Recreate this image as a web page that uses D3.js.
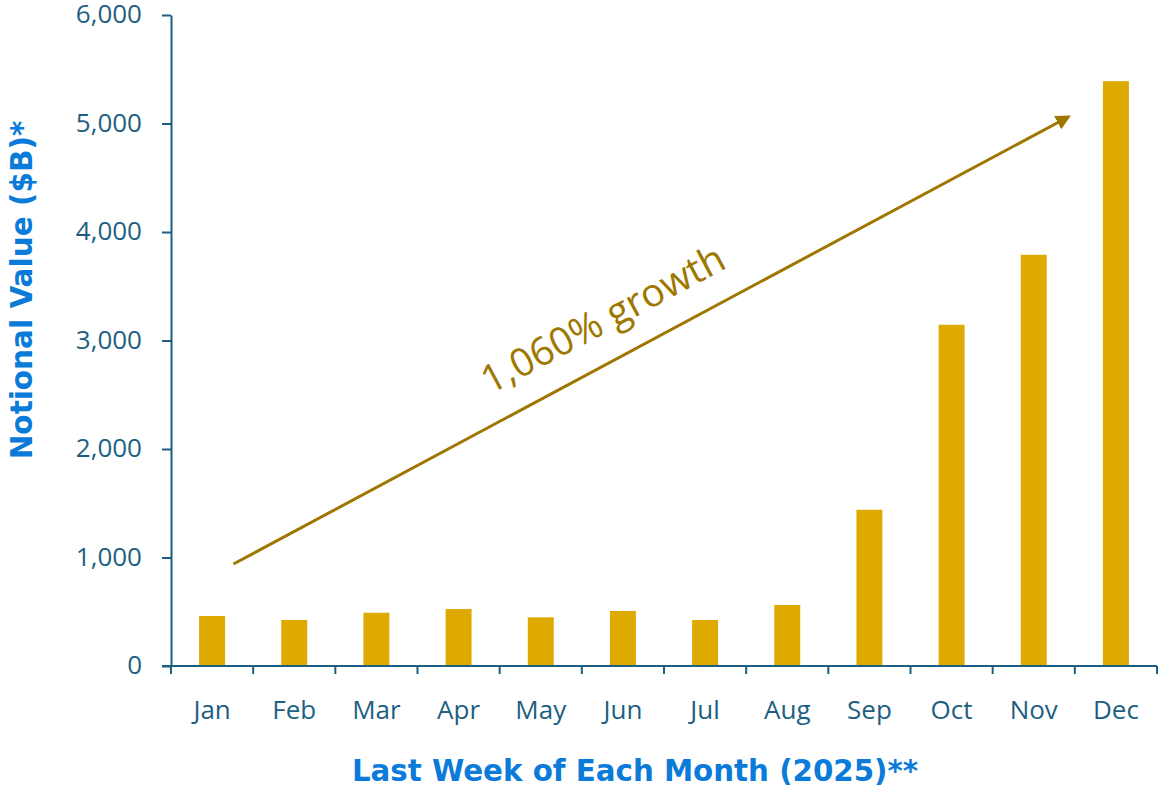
<!DOCTYPE html>
<html>
<head>
<meta charset="utf-8">
<script src="https://cdn.jsdelivr.net/npm/d3@7"></script>
<style>
  body { margin: 0; background: #fff; }
  svg { display: block; }
</style>
</head>
<body>
<svg id="chart" width="1158" height="791"></svg>
<script>
const months = ["Jan","Feb","Mar","Apr","May","Jun","Jul","Aug","Sep","Oct","Nov","Dec"];
const notional = [461, 424, 491, 525, 449, 507, 424, 562, 1440, 3145, 3790, 5390];
const yTicks = [0, 1000, 2000, 3000, 4000, 5000, 6000];
const yTitle = "Notional Value ($B)*";
const xTitle = "Last Week of Each Month (2025)**";
const growthLabel = "1,060% growth";
// arrow annotation endpoints in data space: [month, band offset (fraction of step), value]
const arrowStart = ["Jan", 0.26, 940];
const arrowEnd = ["Dec", -0.58, 5060];

const axisColor = "#1D5F82";
const barColor = "#DFAA00";
const arrowColor = "#9E7700";
const titleColor = "#0A7BD8";

const svg = d3.select("#chart");
const mLeft = 171, mRight = 1157, mTop = 15, mBottom = 666;

const x = d3.scaleBand().domain(months).range([mLeft, mRight]).paddingInner(0.684).paddingOuter(0.342);
const y = d3.scaleLinear().domain([0, 6000]).range([mBottom, mTop]);
const step = x.step();

// bars
svg.append("g").selectAll("rect").data(months).join("rect")
  .attr("x", d => x(d))
  .attr("width", x.bandwidth())
  .attr("y", (d, i) => y(notional[i]))
  .attr("height", (d, i) => y(0) - y(notional[i]))
  .attr("fill", barColor);

// y axis
const yAxis = svg.append("g").attr("transform", `translate(${mLeft},0)`)
  .call(d3.axisLeft(y).tickValues(yTicks).tickFormat(d3.format(",")).tickSize(9).tickSizeOuter(0).tickPadding(20));
yAxis.select(".domain").attr("stroke", axisColor).attr("stroke-width", 2);
yAxis.selectAll(".tick line").attr("stroke", axisColor).attr("stroke-width", 2);
yAxis.selectAll(".tick text").attr("fill", axisColor).attr("dy", "0.3em")
  .style("font-family", "'Open Sans', sans-serif").style("font-size", "26px");

// x axis line
svg.append("line").attr("x1", mLeft - 9).attr("x2", mRight).attr("y1", y(0)).attr("y2", y(0))
  .attr("stroke", axisColor).attr("stroke-width", 2);
// x boundary ticks
const bounds = d3.range(months.length + 1).map(i => mLeft + i * step);
svg.append("g").selectAll("line").data(bounds).join("line")
  .attr("x1", d => d).attr("x2", d => d)
  .attr("y1", y(0)).attr("y2", y(0) + 8)
  .attr("stroke", axisColor).attr("stroke-width", 2);
// x labels
const xAxis = svg.append("g").attr("transform", `translate(0,${mBottom})`)
  .call(d3.axisBottom(x).tickSize(0).tickPadding(35));
xAxis.select(".domain").remove();
xAxis.selectAll(".tick text").attr("fill", axisColor)
  .style("font-family", "'Open Sans', sans-serif").style("font-size", "26px");

// titles
svg.append("text")
  .attr("transform", `translate(32,290) rotate(-90)`)
  .attr("text-anchor", "middle")
  .attr("fill", titleColor)
  .style("font-family", "'DejaVu Sans', sans-serif").style("font-weight", "700").style("font-size", "29.5px")
  .text(yTitle);

svg.append("text")
  .attr("x", 635).attr("y", 781)
  .attr("text-anchor", "middle")
  .attr("fill", titleColor)
  .style("font-family", "'DejaVu Sans', sans-serif").style("font-weight", "700").style("font-size", "29.3px")
  .text(xTitle);

// arrow annotation
const defs = svg.append("defs");
defs.append("marker").attr("id", "arrowhead")
  .attr("viewBox", "0 0 10 10").attr("refX", 8).attr("refY", 5)
  .attr("markerWidth", 5).attr("markerHeight", 5.5).attr("orient", "auto")
  .attr("markerUnits", "strokeWidth")
  .append("path").attr("d", "M0,0 L10,5 L0,10 Z").attr("fill", arrowColor);

const ax = p => x(p[0]) + x.bandwidth() / 2 + p[1] * step;
const x1 = ax(arrowStart), y1 = y(arrowStart[2]);
const x2 = ax(arrowEnd), y2 = y(arrowEnd[2]);
svg.append("line").attr("x1", x1).attr("y1", y1).attr("x2", x2).attr("y2", y2)
  .attr("stroke", arrowColor).attr("stroke-width", 3)
  .attr("marker-end", "url(#arrowhead)");

const ang = Math.atan2(y2 - y1, x2 - x1) * 180 / Math.PI;
const mx = x1 + (x2 - x1) * 0.466, my = y1 + (y2 - y1) * 0.466;
svg.append("text")
  .attr("transform", `translate(${mx},${my}) rotate(${ang}) translate(0,-28)`)
  .attr("text-anchor", "middle")
  .attr("fill", arrowColor)
  .style("font-family", "'Open Sans', sans-serif").style("font-size", "39px")
  .text(growthLabel);
</script>
</body>
</html>
